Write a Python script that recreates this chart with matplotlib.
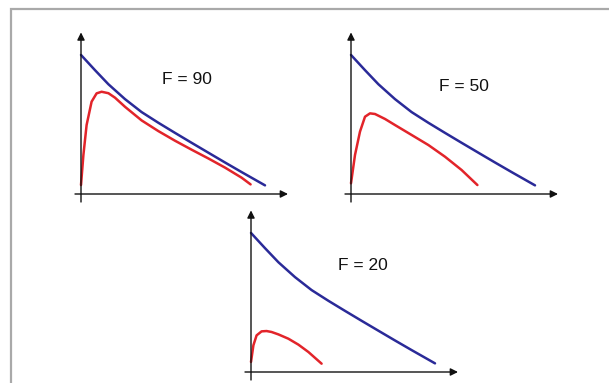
import matplotlib.pyplot as plt
from matplotlib.patches import Rectangle

# blue curve (same in all three panels)
blue_x = [0, 0.7, 1.37, 2.2, 3.03, 3.87, 4.7, 5.53, 6.37, 7.2, 8.03, 9.2]
blue_y = [8.69, 7.74, 6.86, 5.93, 5.12, 4.45, 3.82, 3.20, 2.58, 1.97, 1.37, 0.54]

# red curves, one per F value
red_x_90 = [0, 0.12, 0.28, 0.53, 0.78, 1.03, 1.37, 1.7, 2.2, 3.03, 3.87, 4.7, 5.53, 6.37, 7.2, 8.03, 8.48]
red_y_90 = [0.56, 2.44, 4.31, 5.77, 6.29, 6.39, 6.30, 6.02, 5.45, 4.60, 3.93, 3.33, 2.77, 2.22, 1.65, 1.02, 0.60]

red_x_50 = [0, 0.2, 0.45, 0.7, 0.95, 1.2, 1.7, 2.2, 3.03, 3.87, 4.7, 5.53, 6.32]
red_y_50 = [0.67, 2.44, 3.9, 4.83, 5.04, 5.0, 4.69, 4.31, 3.69, 3.06, 2.33, 1.5, 0.56]

red_x_20 = [0, 0.12, 0.28, 0.53, 0.78, 1.03, 1.37, 1.87, 2.37, 2.87, 3.53]
red_y_20 = [0.63, 1.67, 2.29, 2.54, 2.56, 2.5, 2.35, 2.08, 1.71, 1.25, 0.52]

labels = ["F = 90", "F = 50", "F = 20"]

W, H = 609, 383
fig = plt.figure(figsize=(W / 100, H / 100), dpi=100)
fig.patch.set_facecolor("white")

# grey frame
fig.patches.append(Rectangle((11 / W, -0.05), 1.1, (H - 9) / H + 0.05,
                             transform=fig.transFigure, fill=False,
                             edgecolor="#a9a9a9", linewidth=1.6))

# panel origins in pixels (x, y from top), 20 px per x unit, 16 px per y unit
origins = [(81, 194), (351, 194), (251, 372)]
label_pos = [(5.28, 7.16), (5.65, 6.72), (5.6, 6.63)]
reds = [(red_x_90, red_y_90), (red_x_50, red_y_50), (red_x_20, red_y_20)]

xlo, xhi, ylo, yhi = -0.5, 10.5, -0.75, 10.25
for (ox, oy), (rx, ry), lab, (tx, ty) in zip(origins, reds, labels, label_pos):
    left = ox + xlo * 20
    bottom = oy - ylo * 16
    ax = fig.add_axes([left / W, (H - bottom) / H, (xhi - xlo) * 20 / W, (yhi - ylo) * 16 / H])
    ax.set_xlim(xlo, xhi)
    ax.set_ylim(ylo, yhi)
    ax.axis("off")

    arrow = dict(arrowstyle="-|>", color="#111111", lw=1.0, mutation_scale=11, shrinkA=0, shrinkB=0)
    ax.annotate("", xy=(0, 10.1), xytext=(0, -0.5), arrowprops=arrow)
    ax.annotate("", xy=(10.35, 0), xytext=(-0.3, 0), arrowprops=arrow)

    ax.plot(blue_x, blue_y, color="#2a2a98", lw=1.8, solid_capstyle="round", solid_joinstyle="round")
    ax.plot(rx, ry, color="#e2242a", lw=1.8, solid_capstyle="round", solid_joinstyle="round")
    ax.text(tx, ty, lab, ha="center", va="center", fontsize=12.5,
            family="Liberation Sans", color="#111111")

fig.savefig("out.png", dpi=100)
